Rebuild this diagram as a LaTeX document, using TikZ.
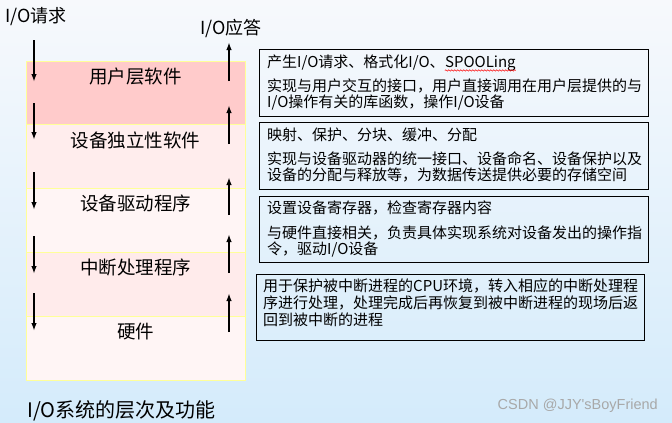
\documentclass[tikz,border=0pt]{standalone}
\usepackage{fontspec}
\setmainfont{Noto Sans CJK SC}
\newfontfamily\wmfont{Liberation Sans}
\usetikzlibrary{arrows.meta,decorations.pathmorphing}
\definecolor{bgtop}{HTML}{F7F9FC}
\definecolor{bgbot}{HTML}{D4EBFB}
\definecolor{bandA}{HTML}{FFCBCB}
\definecolor{bandB}{HTML}{FFEDED}
\definecolor{bandC}{HTML}{FFF5F5}
\definecolor{bandD}{HTML}{FFEBEB}
\definecolor{bandE}{HTML}{FFF5F5}
\definecolor{bandline}{HTML}{FFFF99}
\definecolor{wmgray}{HTML}{A8A8A8}
\begin{document}
\begin{tikzpicture}[x=1pt,y=-1pt,
  band/.style={draw=bandline,line width=0.9pt},
  layertext/.style={inner sep=0pt,font=\fontsize{18.5}{20}\selectfont},
  infobox/.style={draw=black,line width=0.8pt},
  infotext/.style={inner sep=0pt,anchor=west,align=left,font=\fontsize{15}{16}\selectfont},
  flow/.style={line width=1.9pt,-{Latex[length=8pt,width=5.5pt]}},
  wavy/.style={draw=red,line width=0.5pt,decorate,decoration={snake,amplitude=0.7pt,segment length=3pt}}]
\useasboundingbox (0,0) rectangle (672,423);
\shade[top color=bgtop,bottom color=bgbot] (0,0) rectangle (672,423);

% layer bands
\path[band,fill=bandA] (26,61) rectangle (245,124);
\path[band,fill=bandB] (26,124) rectangle (245,188);
\path[band,fill=bandC] (26,188) rectangle (245,252);
\path[band,fill=bandD] (26,252) rectangle (245,316);
\path[band,fill=bandE] (26,316) rectangle (245,380);

\node[layertext] (l1) at (135.5,77) {用户层软件};
\node[layertext] (l2) at (135.5,140) {设备独立性软件};
\node[layertext] (l3) at (135.5,203) {设备驱动程序};
\node[layertext] (l4) at (135.5,267) {中断处理程序};
\node[layertext] (l5) at (135.5,332) {硬件};

% top labels
\node[layertext,anchor=west,font=\fontsize{18}{20}\selectfont] (req) at (5,17) {I/O请求};
\node[layertext,anchor=west,font=\fontsize{18}{20}\selectfont] (resp) at (200,28) {I/O应答};

% down arrows
\draw[flow] (34,40) -- (34,82);
\draw[flow] (34,103) -- (34,140);
\draw[flow] (34,172) -- (34,210);
\draw[flow] (34,236) -- (34,274);
\draw[flow] (34,293) -- (34,331);
% up arrows
\draw[flow] (229,81) -- (229,42);
\draw[flow] (229,144) -- (229,105);
\draw[flow] (229,215) -- (229,177);
\draw[flow] (229,273) -- (229,234);
\draw[flow] (229,332) -- (229,293);

% info boxes
\draw[infobox] (259,49) rectangle (648,116);
\node[infotext] (t1a) at (267,63) {产生I/O请求、格式化I/O、};
\node[inner sep=0pt,anchor=base west,font=\fontsize{15}{16}\selectfont] (t1b) at (t1a.base east) {SPOOLing};
\draw[wavy] ([yshift=-2.5pt]t1b.base west) -- ([yshift=-2.5pt]t1b.base east);
\node[infotext] (t1c) at (267,94) {实现与用户交互的接口，用户直接调用在用户层提供的与\\I/O操作有关的库函数，操作I/O设备};

\draw[infobox] (259,122) rectangle (648,189);
\node[infotext] (t2a) at (267,135) {映射、保护、分块、缓冲、分配};
\node[infotext] (t2b) at (267,167) {实现与设备驱动器的统一接口、设备命名、设备保护以及\\设备的分配与释放等，为数据传送提供必要的存储空间};

\draw[infobox] (259,196) rectangle (648,262);
\node[infotext] (t3a) at (267,208) {设置设备寄存器，检查寄存器内容};
\node[infotext] (t3b) at (267,241) {与硬件直接相关，负责具体实现系统对设备发出的操作指\\令，驱动I/O设备};

\draw[infobox] (256,274) rectangle (644,340);
\node[infotext,font=\fontsize{15}{17}\selectfont] (t4) at (263,303) {用于保护被中断进程的CPU环境，转入相应的中断处理程\\序进行处理，处理完成后再恢复到被中断进程的现场后返\\回到被中断的进程};

% title and watermark
\node[inner sep=0pt,anchor=west,font=\fontsize{20}{22}\selectfont] (title) at (27,411) {I/O系统的层次及功能};
\node[inner sep=0pt,anchor=east,text=wmgray,font=\wmfont\fontsize{14.5}{16}\selectfont] (wm) at (658,406) {CSDN @JJY'sBoyFriend};
\end{tikzpicture}
\end{document}
